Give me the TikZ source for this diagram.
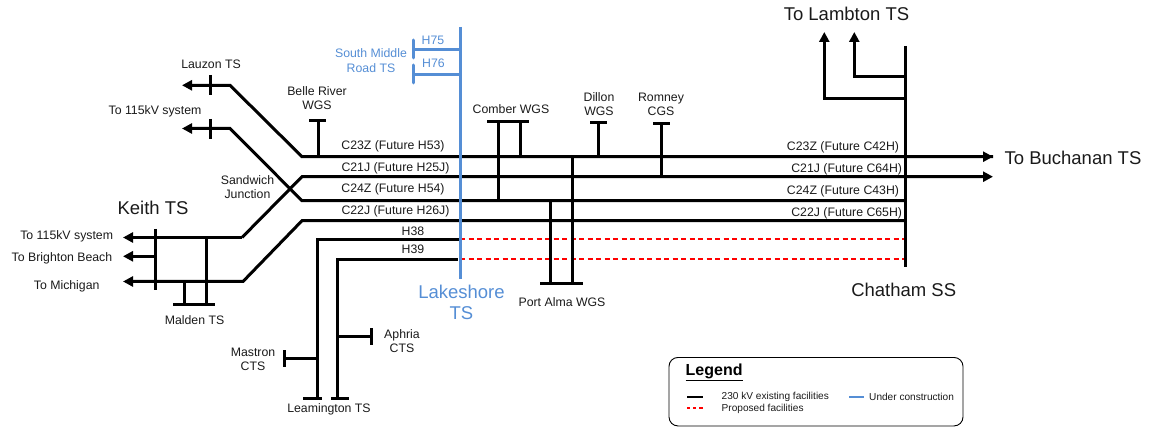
\documentclass[tikz,border=0pt]{standalone}
\usepackage{fontspec}
\setmainfont{Liberation Sans}
\usetikzlibrary{arrows.meta}
\definecolor{ublue}{HTML}{558ED5}
\definecolor{txt}{HTML}{1A1A1A}
\tikzset{
  line/.style={draw=black,line width=3pt},
  arrowline/.style={line,-{Triangle[length=10pt,width=10pt]}},
  blueline/.style={draw=ublue,line width=3pt},
  redline/.style={draw=red,line width=2.2pt,dash pattern=on 5pt off 3.5pt},
  lab/.style={font=\fontsize{12.3}{14.5}\selectfont,text=txt,align=center,inner sep=0pt,yshift=-1.2pt},
  bluelab/.style={lab,text=ublue},
  big/.style={font=\fontsize{18.5}{21}\selectfont,text=txt,align=center,inner sep=0pt},
  bigblue/.style={big,text=ublue},
  leglab/.style={font=\fontsize{10.1}{11.5}\selectfont,text=txt,anchor=west,inner sep=0pt},
}
\begin{document}
\begin{tikzpicture}[x=1pt,y=-1pt]
\useasboundingbox (0,0) rectangle (1150,427);
% --- bus bars
\coordinate (lakeT) at (460.3,27);   \coordinate (lakeB) at (460.3,279);
\coordinate (chatT) at (905.3,46);   \coordinate (chatB) at (905.3,267.5);
% --- C23Z / Lauzon
\coordinate (lauzTip) at (182,85.3); \coordinate (lauzK) at (230,85.3); \coordinate (b1W) at (302,156.7);
\coordinate (b1E) at (993,156.7);
\coordinate (lauzTT) at (210.3,75);  \coordinate (lauzTB) at (210.3,95);
% --- C24Z / 115 kV
\coordinate (k1Tip) at (182,128.5); \coordinate (k1K) at (230,128.5); \coordinate (b3W) at (302,200.7);
\coordinate (b3E) at (905,200.7);
\coordinate (k1TT) at (210.3,119);  \coordinate (k1TB) at (210.3,139);
% --- C21J
\coordinate (k2Tip) at (123,237.5); \coordinate (k2K) at (242,237.5); \coordinate (b2W) at (302,176.7);
\coordinate (b2E) at (993,176.7);
% --- C22J
\coordinate (k3Tip) at (123,281.5); \coordinate (k3K) at (243,281.5); \coordinate (b4W) at (302,220.7);
\coordinate (b4E) at (905,220.7);
% --- Keith bar, Brighton
\coordinate (keithT) at (155.3,229); \coordinate (keithB) at (155.3,290);
\coordinate (brTip) at (123,256.3);  \coordinate (brE) at (155,256.3);
% --- Malden
\coordinate (malL) at (173,304.3); \coordinate (malR) at (215,304.3);
\coordinate (mal1T) at (184.3,281.5); \coordinate (mal1B) at (184.3,304.3);
\coordinate (mal2T) at (206.5,237.5); \coordinate (mal2B) at (206.5,304.3);
% --- H38 / H39
\coordinate (h38E) at (460,239.4); \coordinate (h38K) at (317,239.4); \coordinate (h38B) at (317,398.7);
\coordinate (h39E) at (458,259.4); \coordinate (h39K) at (337.5,259.4); \coordinate (h39B) at (337.5,398.7);
\coordinate (lea1L) at (303,398.7); \coordinate (lea1R) at (322,398.7);
\coordinate (lea2L) at (331,398.7); \coordinate (lea2R) at (349,398.7);
\coordinate (mastT) at (284.7,350); \coordinate (mastB) at (284.7,367);
\coordinate (mastS) at (284.7,358.3); \coordinate (mastE) at (317,358.3);
\coordinate (aphT) at (371.7,328); \coordinate (aphB) at (371.7,344.5);
\coordinate (aphS) at (371.7,336.5); \coordinate (aphW) at (337.5,336.5);
% --- Belle River
\coordinate (belT) at (318.3,120.5); \coordinate (belB) at (318.3,156.7);
\coordinate (belL) at (309,120.5); \coordinate (belR) at (326,120.5);
% --- Comber
\coordinate (comL) at (487,121.7); \coordinate (comR) at (529,121.7);
\coordinate (com1T) at (498.3,121.7); \coordinate (com1B) at (498.3,200.7);
\coordinate (com2T) at (520.3,121.7); \coordinate (com2B) at (520.3,156.7);
% --- Dillon, Romney
\coordinate (dilL) at (590,123); \coordinate (dilR) at (607,123);
\coordinate (dilT) at (598.3,123); \coordinate (dilB) at (598.3,156.7);
\coordinate (romL) at (653,124); \coordinate (romR) at (670,124);
\coordinate (romT) at (661.3,124); \coordinate (romB) at (661.3,176.7);
% --- Port Alma
\coordinate (paL) at (540,283.7); \coordinate (paR) at (583,283.7);
\coordinate (pa1T) at (550.3,200.7); \coordinate (pa1B) at (550.3,283.7);
\coordinate (pa2T) at (572.3,156.7); \coordinate (pa2B) at (572.3,283.7);
% --- Lambton
\coordinate (lam1J) at (905,98.3); \coordinate (lam1K) at (824.3,98.3); \coordinate (lam1Tip) at (824.3,32);
\coordinate (lam2J) at (905,76.5); \coordinate (lam2K) at (854.3,76.5); \coordinate (lam2Tip) at (854.3,32);
% --- South Middle Road
\coordinate (h75E) at (460,49.5); \coordinate (h75W) at (413,49.5);
\coordinate (h76E) at (460,74.3);   \coordinate (h76W) at (413,74.3);
\coordinate (smT1) at (413,40); \coordinate (smB1) at (413,58);
\coordinate (smT2) at (413,65); \coordinate (smB2) at (413,83);
% --- proposed
\coordinate (r1W) at (460,239.4); \coordinate (r1E) at (905,239.4);
\coordinate (r2W) at (460,259.4); \coordinate (r2E) at (905,259.4);

% red first, so the poles sit on top
\draw[redline] (r1W) -- (r1E);
\draw[redline] (r2W) -- (r2E);

% main corridors
\draw[arrowline] (b1E) -- (b1W) -- (lauzK) -- (lauzTip);
\draw[arrowline] (b3E) -- (b3W) -- (k1K) -- (k1Tip);
\draw[arrowline] (k2K) -- (b2W) -- (b2E);
\draw[arrowline] (k2K) -- (k2Tip);
\draw[arrowline] (b4E) -- (b4W) -- (k3K) -- (k3Tip);
\draw[arrowline] (b1W) -- (b1E);
\draw[line] (lauzTT) -- (lauzTB);
\draw[line] (k1TT) -- (k1TB);
\draw[line] (keithT) -- (keithB);
\draw[arrowline] (brE) -- (brTip);
% Malden
\draw[line] (malL) -- (malR);
\draw[line] (mal1T) -- (mal1B);
\draw[line] (mal2T) -- (mal2B);
% H38 H39
\draw[line,line join=miter] (h38E) -- (h38K) -- (h38B);
\draw[line,line join=miter] (h39E) -- (h39K) -- (h39B);
\draw[line] (lea1L) -- (lea1R);
\draw[line] (lea2L) -- (lea2R);
\draw[line] (mastT) -- (mastB);
\draw[line] (mastS) -- (mastE);
\draw[line] (aphT) -- (aphB);
\draw[line] (aphS) -- (aphW);
% generation tees
\draw[line] (belL) -- (belR);
\draw[line] (belT) -- (belB);
\draw[line] (comL) -- (comR);
\draw[line] (com1T) -- (com1B);
\draw[line] (com2T) -- (com2B);
\draw[line] (dilL) -- (dilR);
\draw[line] (dilT) -- (dilB);
\draw[line] (romL) -- (romR);
\draw[line] (romT) -- (romB);
\draw[line] (paL) -- (paR);
\draw[line] (pa1T) -- (pa1B);
\draw[line] (pa2T) -- (pa2B);
% Chatham and Lambton
\draw[line] (chatT) -- (chatB);
\draw[arrowline] (lam1J) -- (lam1K) -- (lam1Tip);
\draw[arrowline] (lam2J) -- (lam2K) -- (lam2Tip);
% Blue
\draw[blueline] (lakeT) -- (lakeB);
\draw[blueline] (h75E) -- (h75W);
\draw[blueline] (h76E) -- (h76W);
\draw[blueline,line cap=round] (smT1) -- (smB1);
\draw[blueline,line cap=round] (smT2) -- (smB2);

% labels
\node[lab] (tLauzon) at (211,63.5) {Lauzon TS};
\node[lab] (t115a) at (155,110) {To 115kV system};
\node[lab] (tBelle) at (317,97) {Belle River\\WGS};
\node[lab] (c23w) at (393,145.5) {C23Z (Future H53)};
\node[lab] (c21w) at (395.5,167.5) {C21J (Future H25J)};
\node[lab] (c24w) at (393,188.5) {C24Z (Future H54)};
\node[lab] (c22w) at (395.5,210.5) {C22J (Future H26J)};
\node[lab] (tH38) at (413,230.5) {H38};
\node[lab] (tH39) at (413,248.5) {H39};
\node[lab] (tSand) at (247.5,185.7) {Sandwich\\Junction};
\node[big] (tKeith) at (153,208) {Keith TS};
\node[lab] (t115b) at (66.7,235) {To 115kV system};
\node[lab] (tBright) at (62,257.6) {To Brighton Beach};
\node[lab] (tMich) at (66.7,285.6) {To Michigan};
\node[lab] (tMalden) at (194.5,318.5) {Malden TS};
\node[lab] (tLeam) at (329,408.5) {Leamington TS};
\node[lab] (tMast) at (253,358) {Mastron\\CTS};
\node[lab] (tAph) at (402,340) {Aphria\\CTS};
\node[bluelab] (tSouth) at (371,59.5) {South Middle\\Road TS};
\node[bluelab] (tH75) at (433,39) {H75};
\node[bluelab] (tH76) at (433.5,62.5) {H76};
\node[bigblue] (tLake) at (461.5,302) {Lakeshore\\TS};
\node[lab] (tComber) at (511,108) {Comber WGS};
\node[lab] (tDillon) at (599,103) {Dillon\\WGS};
\node[lab] (tRomney) at (661,103) {Romney\\CGS};
\node[lab] (tPort) at (562,300.5) {Port Alma WGS};
\node[big] (tLamb) at (846.5,14) {To Lambton TS};
\node[big] (tBuch) at (1073,158) {To Buchanan TS};
\node[big] (tChat) at (903.7,290) {Chatham SS};
\node[lab] (c23e) at (843,146.5) {C23Z (Future C42H)};
\node[lab] (c21e) at (846.7,168.5) {C21J (Future C64H)};
\node[lab] (c24e) at (843,190.5) {C24Z (Future C43H)};
\node[lab] (c22e) at (846.7,212) {C22J (Future C65H)};

% legend
\node[draw=black,line width=0.9pt,rounded corners=9pt,minimum width=294pt,minimum height=68.5pt,inner sep=0pt] (legbox) at (816,391.7) {};
\node[font=\fontsize{16}{18}\selectfont\bfseries,text=black,anchor=base west,inner sep=0pt] (legtitle) at (685.5,375) {\underline{Legend}};
\coordinate (lgA) at (687,396.5); \coordinate (lgB) at (703,396.5);
\coordinate (lgC) at (687,407.7); \coordinate (lgD) at (703,407.7);
\coordinate (lgE) at (849,396.5); \coordinate (lgF) at (864,396.5);
\draw[line,line width=2pt] (lgA) -- (lgB);
\draw[redline,dash pattern=on 3.2pt off 3pt] (lgC) -- (lgD);
\draw[blueline,line width=2pt] (lgE) -- (lgF);
\node[leglab] (lg1) at (721.5,397) {230 kV existing facilities};
\node[leglab] (lg2) at (721.5,408.5) {Proposed facilities};
\node[leglab] (lg3) at (869,397) {Under construction};
\end{tikzpicture}
\end{document}
